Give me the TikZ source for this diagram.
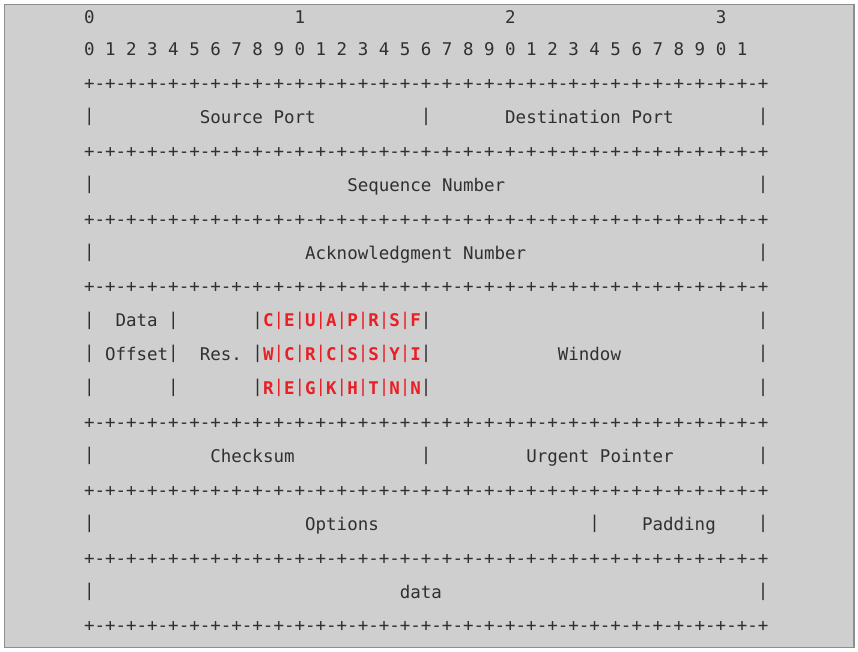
\documentclass[tikz,border=0pt]{standalone}
\usepackage{fontspec}
\setmonofont{DejaVu Sans Mono}
\definecolor{ink}{HTML}{303030}
\definecolor{flag}{HTML}{EA1E25}
\definecolor{panel}{HTML}{CFCFCF}
\definecolor{rim}{HTML}{8E8E8E}
\newcommand\vbar{\raisebox{1.8pt}{|}}
\newcommand\brd{+-+-+-+-+-+-+-+-+-+-+-+-+-+-+-+-+-+-+-+-+-+-+-+-+-+-+-+-+-+-+-+-+}
\newcommand\fl[1]{\textbf{#1}}
\tikzset{txt/.style={anchor=base west, inner sep=0pt, outer sep=0pt,
  font=\ttfamily\fontsize{17.49}{20}\selectfont\frenchspacing, text=ink}}
\newcommand\tx[4]{\node[txt] (#1) at ({84+10.53*#2},{49.3+33.9*(#3-1)+6.3}) {#4};}
\begin{document}
\begin{tikzpicture}[x=1pt,y=-1pt]
\useasboundingbox (0,0) rectangle (858,652);
\fill[white] (0,0) rectangle (858,652);
\draw[rim, fill=panel, line width=1.3pt] (4.5,4.5) rectangle (854,647.5);
% bit ruler
\tx{h0}{0}{0.056}{0}
\tx{h1}{20}{0.056}{1}
\tx{h2}{40}{0.056}{2}
\tx{h3}{60}{0.056}{3}
\tx{bits}{0}{1}{0 1 2 3 4 5 6 7 8 9 0 1 2 3 4 5 6 7 8 9 0 1 2 3 4 5 6 7 8 9 0 1}
% border lines
\foreach \r in {2,4,6,8,12,14,16,18}{\tx{border\r}{0}{\r}{\brd}}
% vertical bars
\foreach \c/\r in {0/3,32/3,64/3,0/5,64/5,0/7,64/7,0/9,8/9,64/9,0/10,8/10,64/10,
  0/11,8/11,64/11,0/13,32/13,64/13,0/15,48/15,64/15,0/17,64/17}{\tx{bar\c-\r}{\c}{\r}{\vbar}}
% field labels
\tx{srcport}{11}{3}{Source Port}
\tx{dstport}{40}{3}{Destination Port}
\tx{seqnum}{25}{5}{Sequence Number}
\tx{acknum}{21}{7}{Acknowledgment Number}
\tx{dataA}{3}{9}{Data}
\tx{offset}{2}{10}{Offset}
\tx{res}{11}{10}{Res.}
\tx{window}{45}{10}{Window}
\tx{flagsA}{16}{9}{\vbar\textcolor{flag}{\fl{C}\vbar\fl{E}\vbar\fl{U}\vbar\fl{A}\vbar\fl{P}\vbar\fl{R}\vbar\fl{S}\vbar\fl{F}}\vbar}
\tx{flagsB}{16}{10}{\vbar\textcolor{flag}{\fl{W}\vbar\fl{C}\vbar\fl{R}\vbar\fl{C}\vbar\fl{S}\vbar\fl{S}\vbar\fl{Y}\vbar\fl{I}}\vbar}
\tx{flagsC}{16}{11}{\vbar\textcolor{flag}{\fl{R}\vbar\fl{E}\vbar\fl{G}\vbar\fl{K}\vbar\fl{H}\vbar\fl{T}\vbar\fl{N}\vbar\fl{N}}\vbar}
\tx{checksum}{12}{13}{Checksum}
\tx{urgent}{42}{13}{Urgent Pointer}
\tx{options}{21}{15}{Options}
\tx{padding}{53}{15}{Padding}
\tx{payload}{30}{17}{data}
\end{tikzpicture}
\end{document}
